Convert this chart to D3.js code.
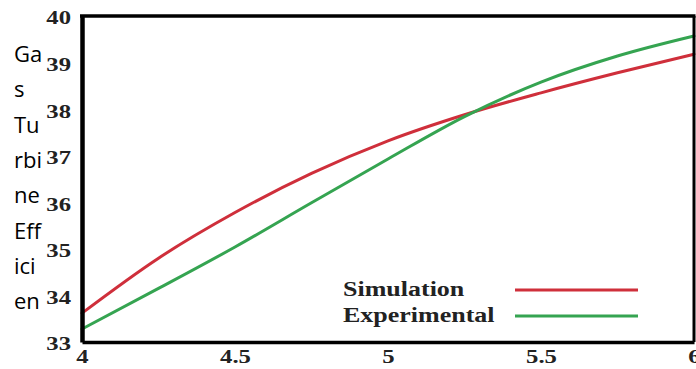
<!DOCTYPE html>
<html>
<head>
<meta charset="utf-8">
<script src="https://cdn.jsdelivr.net/npm/d3@7"></script>
<style>
  html, body { margin: 0; padding: 0; background: #fff; }
  svg { display: block; }
</style>
</head>
<body>
<svg id="chart" width="696" height="369"></svg>
<script>
// Pressure ratio samples and gas turbine efficiency (%) for each series
const pressureRatio = [4, 4.25, 4.5, 4.75, 5, 5.25, 5.5, 5.75, 6];
const simulation    = [33.62, 34.8, 35.78, 36.62, 37.32, 37.88, 38.35, 38.78, 39.18];
const experimental  = [33.28, 34.15, 35.04, 35.99, 36.93, 37.84, 38.58, 39.14, 39.57];

const xTicks = [4, 4.5, 5, 5.5, 6];
const yTicks = [33, 34, 35, 36, 37, 38, 39, 40];
const seriesNames = ["Simulation", "Experimental"];
const seriesColors = ["#cf2f3b", "#35a451"];
// The axis title, wrapped into a narrow column
const yTitleLines = ["Ga", "s", "Tu", "rbi", "ne", "Eff", "ici", "en"];

const svg = d3.select("#chart");
const plotLeft = 82, plotRight = 694, plotTop = 16, plotBottom = 342;
const stretch = 1.3;           // horizontally widened serif lettering
const serif = "'Liberation Serif', 'Times New Roman', serif";

const x = d3.scaleLinear().domain([4, 6]).range([plotLeft, plotRight]);
const y = d3.scaleLinear().domain([33, 40]).range([plotBottom, plotTop]);

// Y axis title, one line per row
const title = svg.append("text")
  .attr("font-family", "'Open Sans', 'Noto Sans', sans-serif")
  .attr("font-size", 22)
  .attr("fill", "#000");
yTitleLines.forEach((t, i) => {
  title.append("tspan").attr("x", 14).attr("y", 62 + i * 35.3).text(t);
});

// Curves
const line = d3.line()
  .x((d, i) => x(pressureRatio[i]))
  .y(d => y(d))
  .curve(d3.curveMonotoneX);

[simulation, experimental].forEach((vals, k) => {
  svg.append("path")
    .datum(vals)
    .attr("d", line)
    .attr("fill", "none")
    .attr("stroke", seriesColors[k])
    .attr("stroke-width", 3)
    .attr("stroke-linecap", "round");
});

// Frame: top and right edges
svg.append("line").attr("x1", plotLeft - 2).attr("x2", plotRight + 1.5).attr("y1", plotTop).attr("y2", plotTop)
  .attr("stroke", "#000").attr("stroke-width", 3.5);
svg.append("line").attr("x1", plotRight).attr("x2", plotRight).attr("y1", plotTop).attr("y2", plotBottom)
  .attr("stroke", "#000").attr("stroke-width", 3);

// Axes
const yAxis = svg.append("g")
  .attr("transform", `translate(${plotLeft},0)`)
  .call(d3.axisLeft(y).tickValues(yTicks).tickSize(0).tickPadding(0).tickFormat(d3.format("d")));
const xAxis = svg.append("g")
  .attr("transform", `translate(0,${plotBottom})`)
  .call(d3.axisBottom(x).tickValues(xTicks).tickSize(0).tickPadding(8).tickFormat(d => String(d)));

yAxis.select(".domain").attr("stroke", "#000").attr("stroke-width", 4.5);
xAxis.select(".domain").attr("stroke", "#000").attr("stroke-width", 3.5);

[yAxis, xAxis].forEach(g => {
  g.attr("font-size", null);
  g.selectAll(".tick text")
    .attr("font-family", serif)
    .attr("font-weight", "bold")
    .attr("font-size", 19)
    .attr("fill", "#222");
});
yAxis.selectAll(".tick text")
  .attr("x", -11 / stretch)
  .attr("dy", "0.42em")
  .attr("transform", `scale(${stretch},1)`);
xAxis.selectAll(".tick text")
  .attr("transform", `scale(${stretch},1)`);

// Legend
const legend = svg.append("g");
seriesNames.forEach((name, i) => {
  const cy = 290 + i * 26;
  legend.append("text")
    .attr("x", 343 / stretch)
    .attr("y", cy + 6)
    .attr("transform", `scale(${stretch},1)`)
    .attr("font-family", serif)
    .attr("font-weight", "bold")
    .attr("font-size", 20)
    .attr("fill", "#222")
    .text(name);
  legend.append("line")
    .attr("x1", 515).attr("x2", 638)
    .attr("y1", cy).attr("y2", cy)
    .attr("stroke", seriesColors[i])
    .attr("stroke-width", 3);
});
</script>
</body>
</html>
